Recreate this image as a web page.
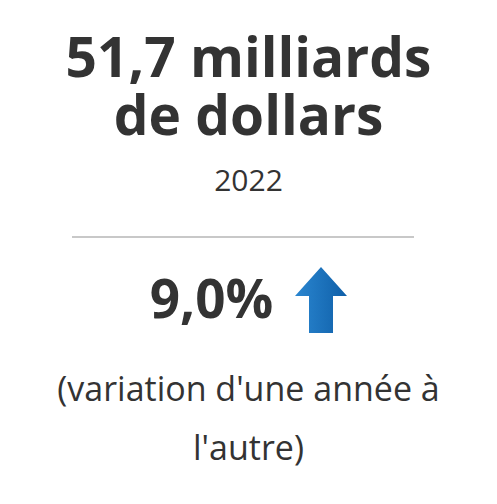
<!DOCTYPE html>
<html>
<head>
<meta charset="utf-8">
<script src="https://cdn.jsdelivr.net/npm/chart.js@4"></script>
<style>
  html, body { margin: 0; padding: 0; background: #fff; }
  body { width: 497px; height: 504px; font-family: "Open Sans", sans-serif; color: #333; text-align: center; position: relative; overflow: hidden; }
  .line { position: absolute; left: 0; width: 497px; white-space: nowrap; }
  .big { font-size: 55px; font-weight: 700; line-height: 60px; }
  #v1 { top: 26px; }
  #v2 { top: 84px; }
  #year { top: 160px; font-size: 30px; line-height: 40px; }
  #rule { position: absolute; top: 236px; left: 72px; width: 342px; height: 2px; background: #c8c8c8; }
  #change { top: 266px; font-size: 53px; font-weight: 700; line-height: 64px; }
  #change span { position: relative; left: -37px; }
  #arrow { position: absolute; top: 266px; left: 294px; width: 54px; height: 68px; }
  .note { font-size: 34px; line-height: 44px; }
  #n1 { top: 366px; }
  #n2 { top: 425px; }
</style>
</head>
<body>
<div id="v1" class="line big">51,7 milliards</div>
<div id="v2" class="line big">de dollars</div>
<div id="year" class="line"></div>
<div id="rule"></div>
<div id="change" class="line"><span></span></div>
<svg id="arrow" viewBox="0 0 54 68">
  <defs>
    <linearGradient id="g" x1="0" x2="1" y1="0" y2="0">
      <stop offset="0" stop-color="#2a86d0"/>
      <stop offset="1" stop-color="#0f5fa8"/>
    </linearGradient>
  </defs>
  <polygon points="27,1 53,30 39,30 39,67 15,67 15,30 1,30" fill="url(#g)"/>
</svg>
<div id="n1" class="line note">(variation d'une année à</div>
<div id="n2" class="line note">l'autre)</div>
<script>
const YEAR = "2022";
const CHANGE_PCT = [9.0];

document.getElementById("year").textContent = YEAR;
document.querySelector("#change span").textContent =
    CHANGE_PCT[0].toFixed(1).replace(".", ",") + "%";
</script>
</body>
</html>
